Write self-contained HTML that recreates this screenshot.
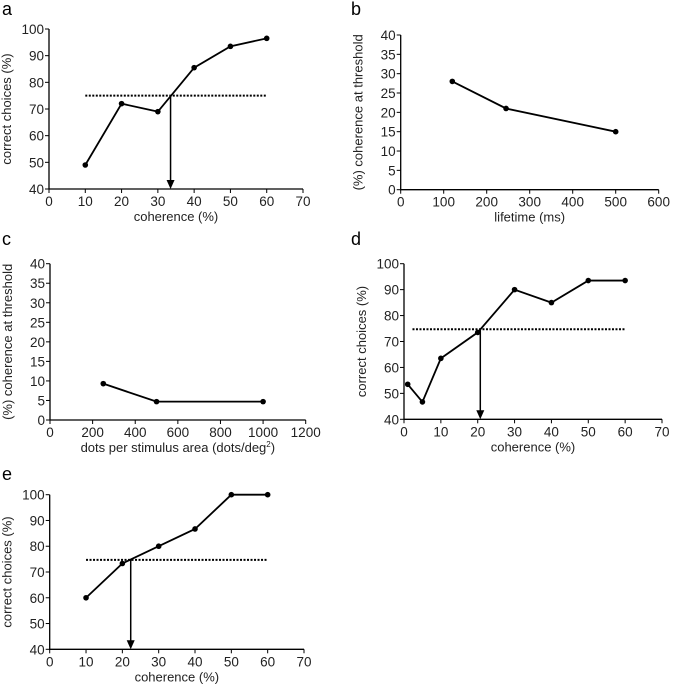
<!DOCTYPE html>
<html><head><meta charset="utf-8"><style>
body{margin:0;background:#fff}
svg{display:block;font-family:"Liberation Sans",Arial,sans-serif}
</style></head><body>
<svg id="s" width="685" height="686" viewBox="0 0 685 686"></svg>
<script>
const aX=[10,20,30,40,50,60], aY=[49,72,69,85.5,93.5,96.5];
const bX=[120,245,500], bY=[28,21,15];
const cX=[250,500,1000], cY=[9.3,4.7,4.7];
const dX=[1,5,10,20,30,40,50,60], dY=[53.5,46.7,63.5,73.5,90,85,93.5,93.5];
const eX=[10,20,30,40,50,60], eY=[60,73.3,80,86.7,100,100];
const xTicksCoh=[0,10,20,30,40,50,60,70];
const yTicksPct=[40,50,60,70,80,90,100];
const xTicksLife=[0,100,200,300,400,500,600];
const xTicksDots=[0,200,400,600,800,1000,1200];
const yTicksThr=[0,5,10,15,20,25,30,35,40];

const svg=document.getElementById('s');
const NS='http://www.w3.org/2000/svg';
function mk(t,a,p){const e=document.createElementNS(NS,t);for(const k in a)e.setAttribute(k,a[k]);(p||svg).appendChild(e);return e;}
function panel(o){
  const g=mk('g',{});
  
  
  const sx=v=>o.x0+(v-o.xmin)/(o.xmax-o.xmin)*(o.x1-o.x0);
  const sy=v=>o.y0-(v-o.ymin)/(o.ymax-o.ymin)*(o.y0-o.y1);
  const lbl=mk('text',{x:o.lx,y:o.ly,'font-size':18},g);lbl.textContent=o.id;
  
  const ax=mk('path',{d:`M${o.x0},${o.y1}V${o.y0}H${o.x1}`,stroke:'#000','stroke-width':1.3,fill:'none'},g);
  
  o.xt.forEach(v=>{const x=sx(v);mk('line',{x1:x,x2:x,y1:o.y0,y2:o.y0+4,stroke:'#000'},g);
    const t=mk('text',{x:x,y:o.y0+17,'font-size':13.5,'text-anchor':'middle',fill:'#222'},g);t.textContent=v;
    });
  o.yt.forEach(v=>{const y=sy(v);mk('line',{x1:o.x0-4,x2:o.x0,y1:y,y2:y,stroke:'#000'},g);
    const t=mk('text',{x:o.x0-5,y:y+5,'font-size':13.5,'text-anchor':'end',fill:'#222'},g);t.textContent=v;
    });
  const xt=mk('text',{x:(o.x0+o.x1)/2,y:o.y0+32,'font-size':13,'text-anchor':'middle',fill:'#222'},g);xt.innerHTML=o.xl;
  
  const yc=(o.y0+o.y1)/2;
  const yt=mk('text',{x:0,y:0,'font-size':13,'text-anchor':'middle',fill:'#222',transform:`translate(${o.x0-38},${yc}) rotate(-90)`},g);yt.textContent=o.yl;
  
  if(o.th!=null){
    const dl=mk('line',{x1:sx(o.ds),x2:sx(o.de),y1:sy(o.th),y2:sy(o.th),stroke:'#000','stroke-width':2,'stroke-dasharray':'2,1.5'},g);
    
    const x=sx(o.ar);
    const al=mk('line',{x1:x,x2:x,y1:sy(o.th),y2:o.y0-8,stroke:'#000','stroke-width':1.5},g);
    
    mk('path',{d:`M${x-4},${o.y0-9}L${x+4},${o.y0-9}L${x},${o.y0}Z`,fill:'#000'},g);
  }
  const pl=mk('polyline',{points:o.X.map((v,i)=>sx(v)+','+sy(o.Y[i])).join(' '),fill:'none',stroke:'#000','stroke-width':1.8},g);
  
  o.X.forEach((v,i)=>{const c=mk('circle',{cx:sx(v),cy:sy(o.Y[i]),r:2.8,fill:'#000'},g);
    });
}
panel({id:'a',lx:2,ly:15,x0:49,x1:303,y0:189,y1:29,xmin:0,xmax:70,ymin:40,ymax:100,xt:xTicksCoh,yt:yTicksPct,X:aX,Y:aY,xl:'coherence (%)',yl:'correct choices (%)',th:75,ds:10,de:60,ar:33.5});
panel({id:'b',lx:351,ly:15,x0:400.7,x1:658.7,y0:189.7,y1:35,xmin:0,xmax:600,ymin:0,ymax:40,xt:xTicksLife,yt:yTicksThr,X:bX,Y:bY,xl:'lifetime (ms)',yl:'(%) coherence at threshold'});
panel({id:'c',lx:2,ly:245,x0:50,x1:305.7,y0:420,y1:263.7,xmin:0,xmax:1200,ymin:0,ymax:40,xt:xTicksDots,yt:yTicksThr,X:cX,Y:cY,xl:'dots per stimulus area (dots/deg<tspan dy="-5" font-size="8">2</tspan><tspan dy="5">)</tspan>',yl:'(%) coherence at threshold'});
panel({id:'d',lx:351,ly:245,x0:404,x1:662,y0:419.3,y1:263.7,xmin:0,xmax:70,ymin:40,ymax:100,xt:xTicksCoh,yt:yTicksPct,X:dX,Y:dY,xl:'coherence (%)',yl:'correct choices (%)',th:74.7,ds:2.3,de:60,ar:20.7});
panel({id:'e',lx:2,ly:480,x0:49.7,x1:304,y0:649.3,y1:494.7,xmin:0,xmax:70,ymin:40,ymax:100,xt:xTicksCoh,yt:yTicksPct,X:eX,Y:eY,xl:'coherence (%)',yl:'correct choices (%)',th:74.7,ds:10,de:60,ar:22.3});
</script>
</body></html>
